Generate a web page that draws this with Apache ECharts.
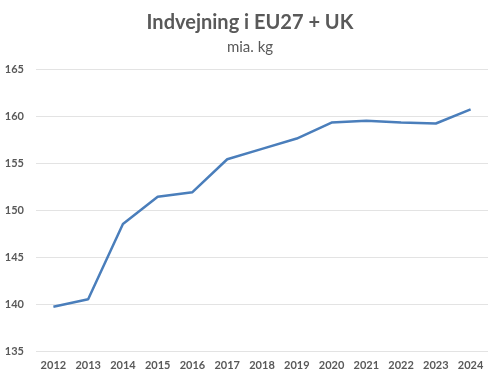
<!DOCTYPE html>
<html><head><meta charset="utf-8">
<script src="https://cdn.jsdelivr.net/npm/echarts@6/dist/echarts.min.js"></script>
<style>html,body{margin:0;padding:0;background:#fff}#c{width:500px;height:379px}</style>
</head><body><div id="c"></div>
<script>
const categories = ['2012','2013','2014','2015','2016','2017','2018','2019','2020','2021','2022','2023','2024'];
const values = [139.7, 140.5, 148.5, 151.4, 151.9, 155.4, 156.5, 157.6, 159.3, 159.5, 159.3, 159.2, 160.7];
const titleText = 'Indvejning i EU27 + UK';
const subtitleText = 'mia. kg';

const chart = echarts.init(document.getElementById('c'), null, {renderer:'canvas'});
chart.setOption({
  animation:false,
  backgroundColor:'#fff',
  title:{
    text:titleText, subtext:subtitleText, left:'center', top:8, itemGap:7,
    textStyle:{fontFamily:'Lato', fontWeight:'bold', fontSize:20, color:'#595959'},
    subtextStyle:{fontFamily:'Lato', fontSize:15, color:'#595959'}
  },
  grid:{left:36, right:12, top:69, bottom:28, containLabel:false},
  xAxis:{
    type:'category', data:categories, boundaryGap:true,
    axisLine:{show:false}, axisTick:{show:false},
    axisLabel:{fontFamily:'Lato', fontWeight:'bold', fontSize:11, color:'#595959', margin:9}
  },
  yAxis:{
    type:'value', min:135, max:165, interval:5,
    axisLine:{show:false}, axisTick:{show:false},
    splitLine:{lineStyle:{color:'#e3e3e3', width:1}},
    axisLabel:{fontFamily:'Lato', fontWeight:'bold', fontSize:11, color:'#595959', margin:12, align:'right'}
  },
  series:[{
    type:'line', data:values, symbol:'none',
    lineStyle:{color:'#4a7ebb', width:2.5}
  }]
});
</script></body></html>
